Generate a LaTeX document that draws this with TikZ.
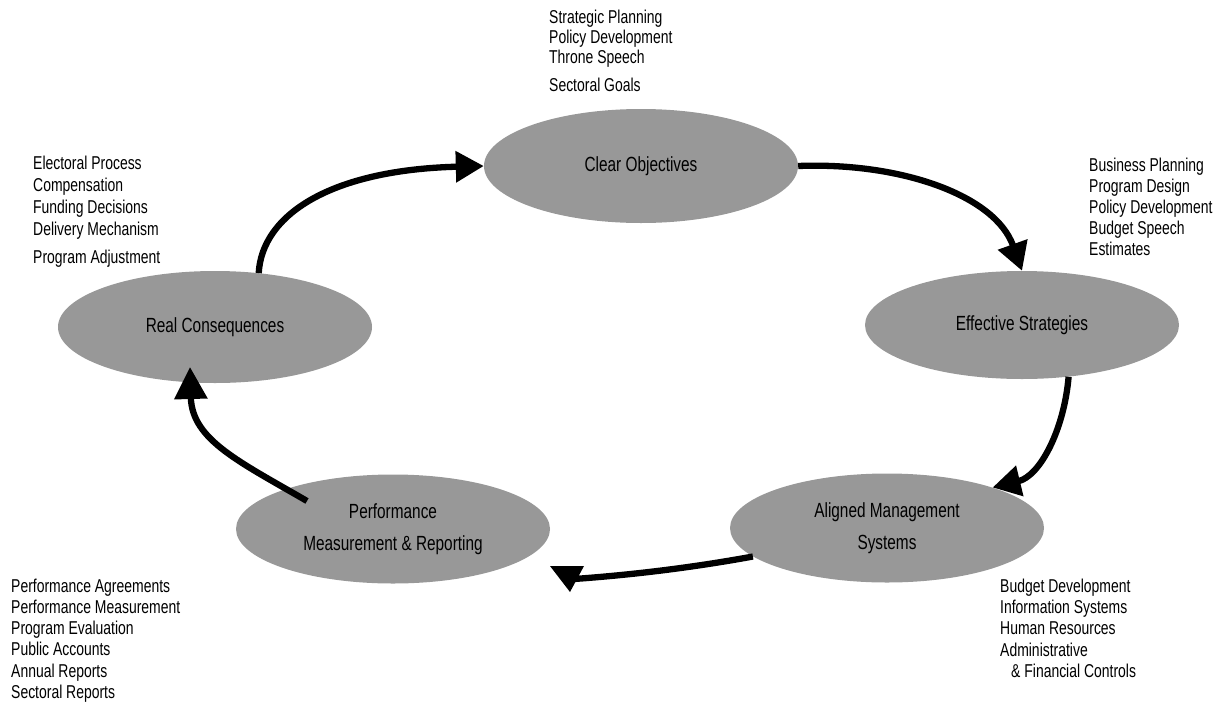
\documentclass[tikz,border=0pt]{standalone}
\usepackage{fontspec}
\setmainfont{Liberation Sans}[FakeStretch=0.75]
\usetikzlibrary{arrows.meta,shapes.geometric,calc}

\definecolor{blobgray}{RGB}{152,152,152}

\tikzset{
  stage/.style={ellipse, fill=blobgray, draw=none, inner sep=0pt,
    minimum width=314pt, align=center,
    font=\fontsize{20.5}{32.5}\selectfont},
  notes/.style={anchor=north west, inner sep=0pt, align=left},
  notefont/.style={font=\fontsize{18.6}{#1}\selectfont},
  cyclearrow/.style={line width=6.3pt, line join=round,
    -{Triangle[length=28pt,width=30pt]}},
  cycleline/.style={line width=6.3pt, line join=round},
}

\begin{document}
\begin{tikzpicture}[x=1pt, y=-1pt]
  \useasboundingbox (0,0) rectangle (1222,704);

  % the five stages of the cycle
  \node[stage, minimum height=114pt] (clear)     at (641,166)  {Clear Objectives};
  \node[stage, minimum height=112pt] (real)      at (215,327)  {Real Consequences};
  \node[stage, minimum height=108pt] (effective) at (1022,325) {Effective Strategies};
  \node[stage, minimum height=109pt] (aligned)   at (887,528)  {Aligned Management\\Systems};
  \node[stage, minimum height=109pt] (perf)      at (393,529)  {Performance\\Measurement \& Reporting};

  % activities attached to each stage
  \node[notes, notefont=20] (goals) at (549,9.6)
    {Strategic Planning\\Policy Development\\Throne Speech\\[8pt]Sectoral Goals};
  \node[notes, notefont=22] (consequences) at (33,155.6)
    {Electoral Process\\Compensation\\Funding Decisions\\Delivery Mechanism\\[6pt]Program Adjustment};
  \node[notes, notefont=21] (strategies) at (1089,157.6)
    {Business Planning\\Program Design\\Policy Development\\Budget Speech\\Estimates};
  \node[notes, notefont=21.2] (reporting) at (11,578.6)
    {Performance Agreements\\Performance Measurement\\Program Evaluation\\Public Accounts\\Annual Reports\\Sectoral Reports};
  \node[notes, notefont=21.25] (systems) at (1000,578.6)
    {Budget Development\\Information Systems\\Human Resources\\Administrative\\\hspace*{11pt}\& Financial Controls};

  % arrows running round the cycle
  \draw[cyclearrow] (real.51) .. controls (262,215) and (330,170) .. (clear.west);
  \draw[cyclearrow] (clear.east) .. controls (900,162) and (995,195) .. (effective.north);
  \draw[cyclearrow] (effective.-48) .. controls (1064,430) and (1040,476) .. (aligned.21);

  \coordinate (dropin)  at (574,579);
  \coordinate (droptip) at (570,592);
  \draw[cycleline] (aligned.192) .. controls (690,568) and (630,575) .. (dropin);
  \fill (droptip) -- ++(-20,-26) -- ++(34,0) -- cycle;

  \draw[cycleline, -{Triangle[length=32pt,width=32pt]}]
    ($(perf.center)+(-86,-28)$) .. controls (240,462) and (192,440) .. ($(real.center)+(-25,40)$);
\end{tikzpicture}
\end{document}
